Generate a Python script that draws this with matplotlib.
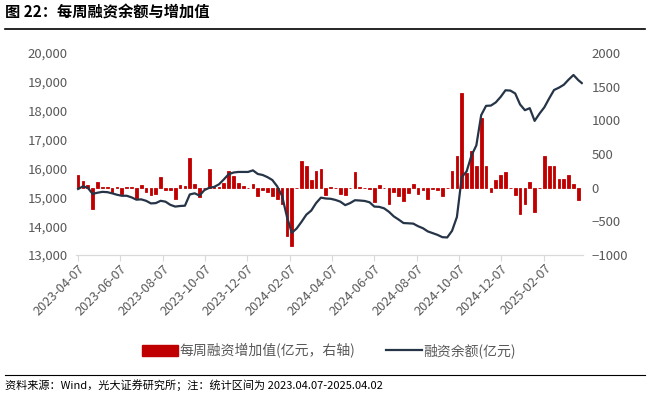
import numpy as np
import pandas as pd
import matplotlib
matplotlib.use("Agg")
import matplotlib.pyplot as plt
import matplotlib.dates as mdates
from matplotlib.ticker import FuncFormatter, FixedLocator
from matplotlib.patches import Patch
from matplotlib.lines import Line2D

plt.rcParams['font.family'] = ['Noto Sans CJK SC', 'DejaVu Sans']

# weekly dates (Fridays) plus the final day of the sample
dates = list(pd.date_range('2023-04-07', '2025-03-28', freq='7D')) + [pd.Timestamp('2025-04-02')]

# financing balance, 100m yuan (left axis)
balance = [
    15290, 15380, 15330, 15120, 15160, 15190, 15180, 15140, 15090, 15055,
    15055, 15000, 14920, 14930, 14880, 14790, 14800, 14880, 14850, 14740,
    14680, 14700, 14710, 15100, 15140, 15060, 15250, 15330, 15360, 15450,
    15620, 15800, 15860, 15880, 15880, 15880, 15935, 15810, 15775, 15700,
    15600, 15380, 15050, 14330, 13770, 13920, 14150, 14400, 14540, 14800,
    14990, 14960, 14950, 14910, 14850, 14730, 14800, 14900, 14890, 14875,
    14830, 14680, 14670, 14620, 14500, 14340, 14230, 14110, 14100, 14090,
    14000, 13930, 13820, 13760, 13700, 13620, 13610, 13840, 14320, 15700,
    15900, 16450, 16800, 17850, 18170, 18180, 18290, 18480, 18710, 18700,
    18600, 18220, 18020, 18090, 17650, 17900, 18120, 18430, 18720, 18800,
    18900, 19080, 19240, 19060, 18960,
]

# weekly increase, 100m yuan (right axis)
increase = [
    193, 93, 40, -311, 79, 15, 10, -70, 15, -89,
    10, 15, -148, 35, -70, -104, -89, 158, -30, -40,
    -168, 40, 20, 440, 50, -138, 0, 277, 10, 5,
    74, 252, 170, 74, 20, 0, 50, -128, -30, -60,
    -118, -168, -240, -721, -869, 0, 390, 316, 118, 242,
    277, -104, 10, -10, -89, -104, 0, 227, 10, 0,
    -20, -217, 44, -10, -237, -60, -128, -202, -79, 50,
    -89, -30, -168, -20, -30, -128, -10, 242, 464, 1403,
    212, 538, 330, 1032, 316, -70, 118, 193, 227, 0,
    -104, -385, -237, 79, -365, 0, 474, 326, 326, 128,
    128, 193, 60, -178, np.nan,
]

tick_dates = ['2023-04-07', '2023-06-07', '2023-08-07', '2023-10-07', '2023-12-07',
              '2024-02-07', '2024-04-07', '2024-06-07', '2024-08-07', '2024-10-07',
              '2024-12-07', '2025-02-07']

bar_color = '#C00000'
line_color = '#253447'
grey = '#595959'

fig = plt.figure(figsize=(6.49, 3.93), dpi=100)
ax = fig.add_axes([0.1171, 0.351, 0.7815, 0.514])
ax2 = ax.twinx()

# bars on the right axis, drawn behind the line
ax2.bar(dates, increase, width=3.8, color=bar_color, edgecolor=bar_color,
        linewidth=0.6, zorder=1)
ax.plot(dates, balance, color=line_color, lw=1.6, zorder=3)

ax.set_zorder(ax2.get_zorder() + 1)
ax.patch.set_visible(False)

ax.set_ylim(13000, 20000)
ax.set_yticks(np.arange(13000, 20001, 1000))
ax.yaxis.set_major_formatter(FuncFormatter(lambda v, p: f"{int(v):,}"))
ax2.set_ylim(-1000, 2000)
ax2.set_yticks(np.arange(-1000, 2001, 500))

ax.set_xlim(pd.Timestamp('2023-04-04'), pd.Timestamp('2025-04-04'))
ax.xaxis.set_major_locator(FixedLocator(mdates.date2num(pd.to_datetime(tick_dates))))
ax.xaxis.set_major_formatter(mdates.DateFormatter('%Y-%m-%d'))

for a in (ax, ax2):
    for s in ('top', 'left', 'right'):
        a.spines[s].set_visible(False)
    a.spines['bottom'].set_color('#D9D9D9')
    a.tick_params(axis='y', length=0, labelsize=9.5, labelcolor=grey, pad=6)

ax.tick_params(axis='x', length=4, color='#D9D9D9', labelsize=9.2,
               labelcolor=grey, pad=1)
for lbl in ax.get_xticklabels():
    lbl.set_rotation(45)
    lbl.set_ha('right')
    lbl.set_rotation_mode('anchor')

# legend
handles = [Patch(facecolor=bar_color, edgecolor=bar_color),
           Line2D([0], [0], color=line_color, lw=1.6)]
labels = ['每周融资增加值(亿元，右轴)', '融资余额(亿元)']
fig.legend(handles, labels, loc='center', bbox_to_anchor=(0.507, 0.108), ncol=2,
           frameon=False, fontsize=10, handlelength=2.6, handleheight=0.9,
           handletextpad=0.1, columnspacing=2.2, labelcolor=grey)

# title, rules and source note
fig.text(0.008, 0.967, '图 22：每周融资余额与增加值', fontsize=11, fontweight='bold',
         va='center', ha='left', color='black')
fig.add_artist(Line2D([0.008, 0.994], [0.925, 0.925], color='black', lw=1.2,
                      transform=fig.transFigure))
fig.add_artist(Line2D([0.008, 0.994], [0.046, 0.046], color='black', lw=0.8,
                      transform=fig.transFigure))
fig.text(0.008, 0.021, '资料来源：Wind，光大证券研究所；注：统计区间为 2023.04.07-2025.04.02',
         fontsize=8, va='center', ha='left', color='black')

fig.savefig('out.png', dpi=100)
